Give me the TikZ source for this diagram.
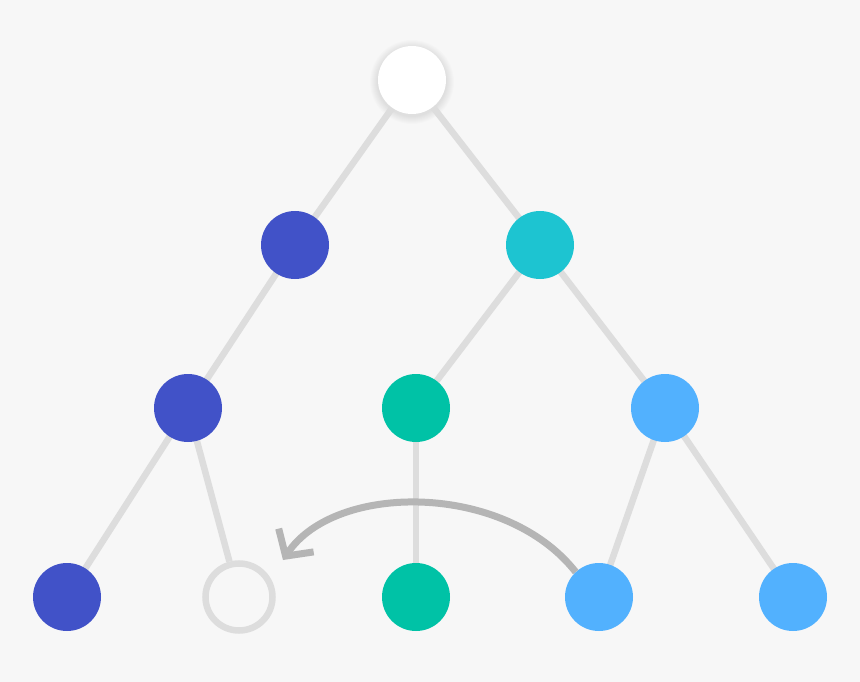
\documentclass[tikz,border=0pt]{standalone}
\usetikzlibrary{arrows.meta}
\definecolor{bg}{HTML}{F7F7F7}
\definecolor{edgec}{HTML}{DDDDDD}
\definecolor{darkb}{HTML}{4152C8}
\definecolor{cyanc}{HTML}{1DC4D1}
\definecolor{tealc}{HTML}{00C2A6}
\definecolor{lightb}{HTML}{52B1FE}
\definecolor{arrowc}{HTML}{B5B5B5}
\pgfdeclarelayer{back}
\pgfdeclarelayer{bottom}
\pgfsetlayers{bottom,back,main}
\tikzset{
  dot/.style={circle,inner sep=0pt,minimum size=68pt,draw=none},
  edge/.style={draw=edgec,line width=6.5pt},
}
\begin{document}
\begin{tikzpicture}[x=1pt,y=-1pt]
\begin{pgfonlayer}{bottom}
\fill[bg] (0,0) rectangle (860,682);
\foreach \k in {1,...,8}{
  \fill[black,opacity=0.013] (412,82) circle ({34+\k});
}
\end{pgfonlayer}
\useasboundingbox (0,0) rectangle (860,682);
\node[dot,fill=white] (root) at (412,80) {};
\node[dot,fill=darkb] (a) at (295,245) {};
\node[dot,fill=cyanc] (b) at (540,245) {};
\node[dot,fill=darkb] (c) at (188,408) {};
\node[dot,fill=tealc] (d) at (416,408) {};
\node[dot,fill=lightb] (e) at (665,408) {};
\node[dot,fill=darkb] (f) at (67,597) {};
\node[dot,draw=edgec,line width=6.5pt,minimum size=67pt] (g) at (239,597) {};
\node[dot,fill=tealc] (h) at (416,597) {};
\node[dot,fill=lightb] (i) at (599,597) {};
\node[dot,fill=lightb] (j) at (793,597) {};
\begin{pgfonlayer}{back}
\path[edge] (root.center) -- (a.center);
\path[edge] (root.center) -- (b.center);
\path[edge] (a.center) -- (c.center);
\path[edge] (b.center) -- (d.center);
\path[edge] (b.center) -- (e.center);
\path[edge] (c.center) -- (f.center);
\path[edge] (c) -- (g);
\path[edge] (d.center) -- (h.center);
\path[edge] (e.center) -- (i.center);
\path[edge] (e.center) -- (j.center);
\end{pgfonlayer}
\coordinate (tip) at (283,560);
\draw[arrowc,line width=7pt,-{Straight Barb[length=19pt,width=42pt]}]
  (i.133) .. controls (505,482) and (335,482) .. (tip);
\end{tikzpicture}
\end{document}
